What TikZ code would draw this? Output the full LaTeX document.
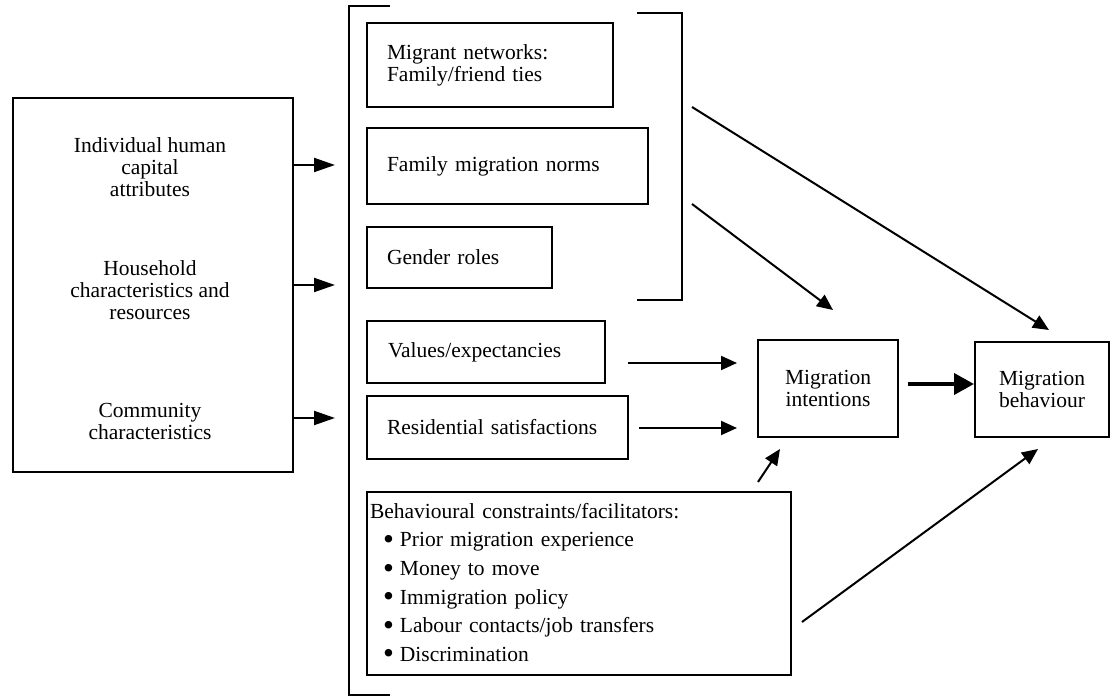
\documentclass[tikz,border=0pt]{standalone}
\usepackage{fontspec}
\usepackage{graphicx}
\setmainfont{Liberation Serif}
\usetikzlibrary{arrows.meta}
\newcommand{\bigbul}{\hspace*{13pt}\raisebox{-0.12em}{\scalebox{1.45}{\textbullet}}\hspace{6pt}}
\begin{document}
\begin{tikzpicture}[x=1pt,y=-1pt,
  every node/.style={font={\fontsize{21.5}{22}\selectfont}},
  boxc/.style={draw,line width=1.3pt,inner sep=0pt,align=center},
  lbox/.style={draw,line width=1.3pt,inner xsep=20pt,inner ysep=0pt,align=left},
  txt/.style={inner sep=0pt,align=center},
  brk/.style={line width=1.5pt},
  arr/.style={line width=2pt,-{Triangle[length=16pt,width=14pt]}},
  larr/.style={line width=2pt,-{Triangle[length=21pt,width=14pt]}},
  barr/.style={line width=4pt,-{Triangle[length=20pt,width=21pt]}}]
\useasboundingbox (0,0) rectangle (1112,700);

% left box
\node[boxc,minimum width=280pt,minimum height=374pt] (L) at (153,285) {};
\node[txt] (t1) at (150,167) {Individual human\\capital\\attributes};
\node[txt] (t2) at (150,290) {Household\\characteristics and\\resources};
\node[txt] (t3) at (150,421) {Community\\characteristics};

% brackets
\draw[brk] (390,6) -- (349,6) -- (349,695) -- (390,695);
\draw[brk] (637,13) -- (682,13) -- (682,300) -- (637,300);

% middle boxes
\node[lbox,text width=206pt,minimum height=84pt] (MN) at (490,65) {Migrant networks:\\Family/friend ties};
\node[lbox,text width=241pt,minimum height=76pt] (FMN) at (507.5,166) {Family migration norms};
\node[lbox,text width=145pt,minimum height=61pt] (GR) at (459.5,257.5) {Gender roles};
\node[lbox,minimum height=62pt,inner xsep=21pt,text width=196pt] (VE) at (486,352) {Values/expectancies};
\node[lbox,text width=221pt,minimum height=63pt] (RS) at (497.5,427.5) {Residential satisfactions};
\node[draw,line width=1.3pt,inner xsep=3pt,inner ysep=0pt,align=left,text width=418pt,minimum height=183pt,
      font={\fontsize{21.5}{28.6}\selectfont}] (BC) at (579,583.5)
  {Behavioural constraints/facilitators:\\
   \bigbul Prior migration experience\\
   \bigbul Money to move\\
   \bigbul Immigration policy\\
   \bigbul Labour contacts/job transfers\\
   \bigbul Discrimination};

% outcome boxes
\node[boxc,minimum width=140pt,minimum height=97pt] (MI) at (828,388.5) {Migration\\intentions};
\node[boxc,minimum width=134pt,minimum height=95pt] (MB) at (1042,389.5) {Migration\\behaviour};

% coordinates for free arrow ends
\coordinate (a1s) at (293,165); \coordinate (a1e) at (335,165);
\coordinate (a2s) at (293,285); \coordinate (a2e) at (335,285);
\coordinate (a3s) at (293,418); \coordinate (a3e) at (335,418);
\coordinate (b1s) at (692,107); \coordinate (b1e) at (1049,330);
\coordinate (b2s) at (692,204); \coordinate (b2e) at (833,310);
\coordinate (v1s) at (628,363); \coordinate (v1e) at (737,363);
\coordinate (r1s) at (639,428); \coordinate (r1e) at (737,428);
\coordinate (c1s) at (758,482); \coordinate (c1e) at (780,449);
\coordinate (c2s) at (802,622); \coordinate (c2e) at (1038,449);
\coordinate (m1s) at (908,384); \coordinate (m1e) at (974,384);

\draw[larr] (a1s) -- (a1e);
\draw[larr] (a2s) -- (a2e);
\draw[larr] (a3s) -- (a3e);
\draw[arr] (b1s) -- (b1e);
\draw[arr] (b2s) -- (b2e);
\draw[arr] (v1s) -- (v1e);
\draw[arr] (r1s) -- (r1e);
\draw[arr] (c1s) -- (c1e);
\draw[arr] (c2s) -- (c2e);
\draw[barr] (m1s) -- (m1e);
\end{tikzpicture}
\end{document}
